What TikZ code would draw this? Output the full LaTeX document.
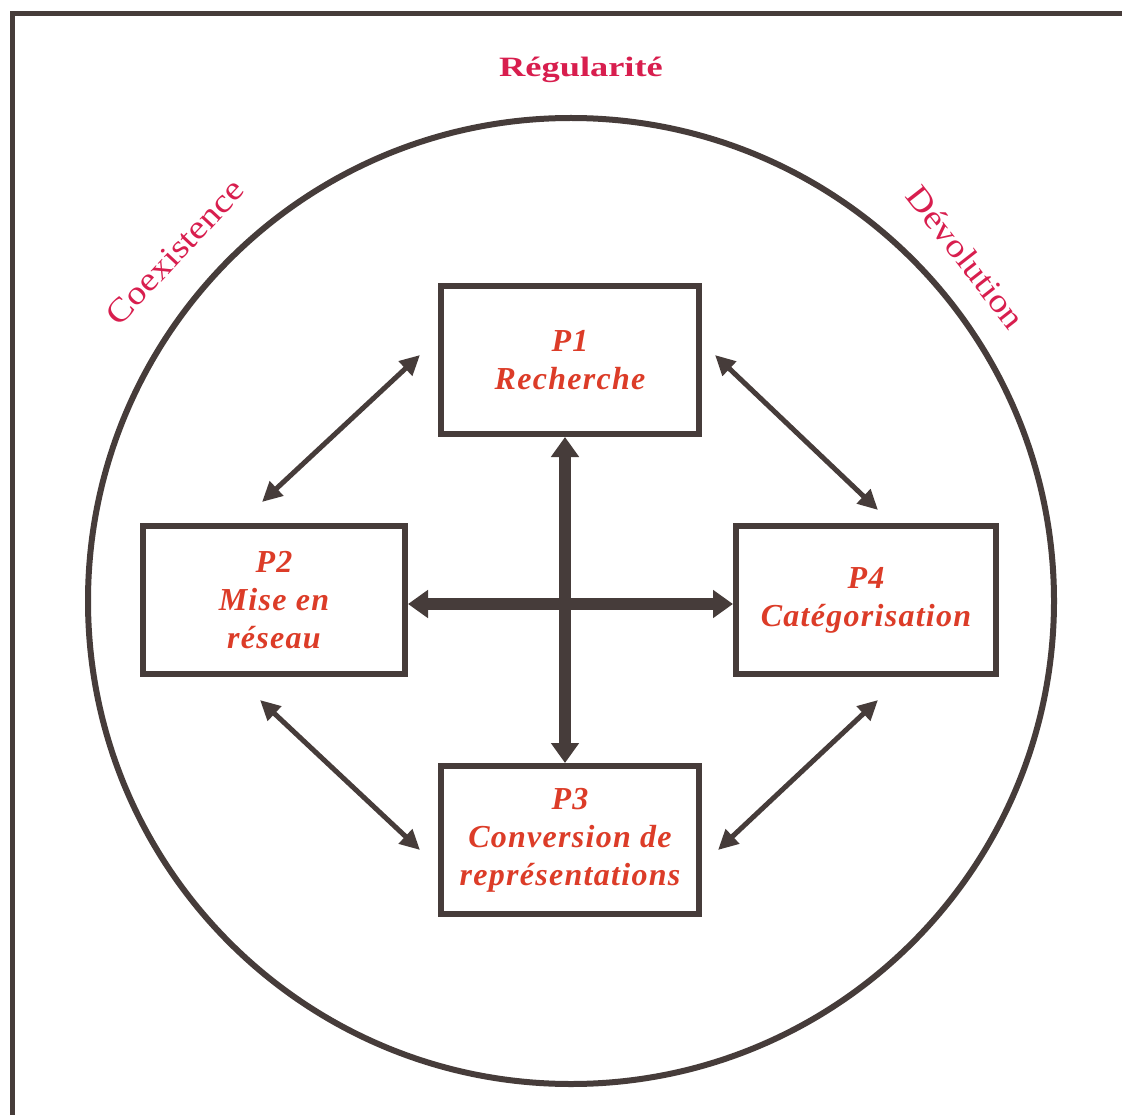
\documentclass[tikz,border=0pt]{standalone}
\usepackage{fontspec}
\setmainfont{Liberation Serif}
\newfontfamily\boxfont[LetterSpace=4]{Liberation Serif}
\newfontfamily\topfont[FakeStretch=1.3]{Liberation Serif}
\newfontfamily\sidefont[FakeStretch=1.15]{Liberation Serif}
\usetikzlibrary{arrows.meta,calc}

\definecolor{ink}{HTML}{463C3A}
\definecolor{ringred}{HTML}{D81E4E}
\definecolor{boxred}{HTML}{DC3C28}

\begin{document}
\begin{tikzpicture}[x=1pt,y=-1pt,
  proc/.style={draw=ink, line width=6pt, fill=white,
    minimum width=258pt, minimum height=148pt, inner sep=0pt,
    align=center, text=boxred,
    font=\boxfont\bfseries\itshape\fontsize{32}{38}\selectfont},
  toplabel/.style={text=ringred, inner sep=0pt,
    font=\topfont\bfseries\fontsize{28}{30}\selectfont},
  sidelabel/.style={text=ringred, inner sep=0pt,
    font=\sidefont\fontsize{33}{36}\selectfont},
  link/.style={draw=ink, line width=5pt,
    {Triangle[length=20pt,width=19pt]}-{Triangle[length=20pt,width=19pt]}},
  mainlink/.style={draw=ink, line width=12pt,
    {Triangle[length=20pt,width=27pt]}-{Triangle[length=20pt,width=27pt]}}]

  \useasboundingbox (0,0) rectangle (1122,1115);
  \fill[white] (0,0) rectangle (1122,1115);

  % open frame: top and left edges only
  \coordinate (frameTL) at (12,14);
  \coordinate (frameTR) at (1122,14);
  \coordinate (frameBL) at (12,1115);
  \draw[ink, line width=5pt] (frameTR) -- (frameTL) -- (frameBL);

  % outer ring
  \node[draw=ink, line width=6pt, circle, minimum size=966pt, inner sep=0pt] (ring) at (571,601) {};

  % ring labels
  \node[toplabel] (reg) at (581,70) {Régularité};
  \node[sidelabel, rotate=47] (coex) at (175,252) {Coexistence};
  \node[sidelabel, rotate=-52] (devo) at (966,257) {Dévolution};

  % the four processes
  \node[proc] (P1) at (570,360) {P1\\Recherche};
  \node[proc, minimum width=262pt] (P2) at (274,600) {P2\\Mise en\\réseau};
  \node[proc, minimum width=260pt] (P4) at (866,600) {P4\\Catégorisation};
  \node[proc] (P3) at (570,840) {P3\\Conversion de\\représentations};

  % central cross
  \draw[mainlink] ([xshift=-5pt]P1.south) -- ([xshift=-5pt]P3.north);
  \draw[mainlink] ([yshift=-4pt]P2.east) -- ([yshift=-4pt]P4.west);

  % diagonal links
  \draw[link] ($(P1.west)+(-18,-5)$) -- ($(P2.north)+(-12,-21)$);
  \draw[link] ($(P1.east)+(13,-5)$) -- ($(P4.north)+(12,-13)$);
  \draw[link] ($(P2.south)+(-14,23)$) -- ($(P3.west)+(-18,10)$);
  \draw[link] ($(P4.south)+(12,23)$) -- ($(P3.east)+(16,10)$);
\end{tikzpicture}
\end{document}
